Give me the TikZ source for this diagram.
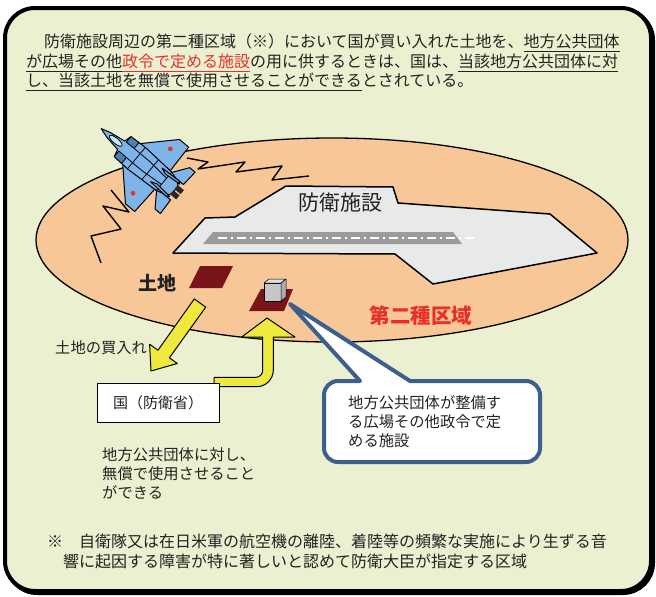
\documentclass[tikz,border=0pt]{standalone}
\usepackage{fontspec}
\newfontfamily\jp{Noto Sans CJK JP}
\definecolor{framefill}{HTML}{EBF1D0}
\definecolor{zonefill}{HTML}{F8C797}
\definecolor{basefill}{HTML}{E8EAEA}
\definecolor{runwaygray}{HTML}{9B9B9B}
\definecolor{parcelred}{HTML}{7A141B}
\definecolor{arrowyellow}{HTML}{EEE93C}
\definecolor{calloutblue}{HTML}{3C5F8C}
\definecolor{jred}{HTML}{E8302A}
\definecolor{ink}{HTML}{222222}
\definecolor{jetblue}{HTML}{7FB4E8}
\definecolor{jetdark}{HTML}{4F7FB0}
\definecolor{canopyblue}{HTML}{C4E8F4}
% underline with a fixed depth so that adjacent pieces line up
\newcommand{\undl}[1]{\underline{\setbox0=\hbox{#1}\dp0=2.4pt\box0}}
\begin{document}
\begin{tikzpicture}[x=1pt,y=-1pt,line join=round,
  txt/.style={inner sep=0pt,text=ink,font=\jp\fontsize{16pt}{19pt}\selectfont},
  smalltxt/.style={inner sep=0pt,text=ink,font=\jp\fontsize{15.3pt}{18pt}\selectfont},
  wave/.style={draw=black,line width=1.4},
  parcel/.style={fill=parcelred},
  fatarrow/.style={fill=arrowyellow,draw=black,line width=1},
  callout/.style={fill=white,draw=calloutblue,line width=4},
  jetpart/.style={fill=jetblue,draw=black,line width=1}]
\useasboundingbox (0,0) rectangle (656,597);

% outer frame with a small drop shadow
\draw[line width=4,rounded corners=30] (7,10) rectangle (653,593);
\draw[fill=framefill,line width=4,rounded corners=30] (5,8) rectangle (651,591);

% second-class zone
\draw[fill=zonefill,line width=1.3] (332,240) ellipse [x radius=296, y radius=102];

% defence facility and runway
\draw[fill=basefill,line width=1.5] (173,253) -- (205,218) -- (235,217) -- (286,186)
  -- (393,187) -- (398,203) -- (550,214) -- (597,253) -- (433,284) -- (395,254) -- cycle;
\fill[runwaygray] (203,244) -- (213,232) -- (453,232) -- (462,244) -- cycle;
\draw[white,line width=1.6,dash pattern=on 9pt off 4pt on 2pt off 4pt] (218,238) -- (477,238);
\node[txt,font=\jp\fontsize{21pt}{24pt}\selectfont] (facility) at (340,203) {防衛施設};

% noise lines
\draw[wave] (187,158) -- (208,162) -- (198,169) -- (245,162) -- (236,172)
  -- (282,166) -- (272,180) -- (309,176);
\draw[wave] (111,190) -- (129,212) -- (103,206) -- (121,229) -- (91,236) -- (101,263);

% fighter jet
\begin{scope}[shift={(141,162)},rotate=140,x=1pt,y=1pt]
  % tailplanes
  \draw[jetpart] (-29,10) -- (-41,27) -- (-48,27) -- (-47,10) -- cycle;
  \draw[jetpart] (-29,-10) -- (-41,-27) -- (-48,-27) -- (-47,-10) -- cycle;
  % wings
  \draw[jetpart] (14,12) -- (-15,42) -- (-27,42) -- (-28,12) -- cycle;
  \draw[jetpart] (14,-12) -- (-15,-42) -- (-27,-42) -- (-28,-12) -- cycle;
  % fuselage
  \draw[jetpart] (52,0) -- (42,3) -- (26,5.5) -- (24,13) -- (6,14) -- (-30,12) -- (-40,9)
    -- (-44,5) -- (-44,-5) -- (-40,-9) -- (-30,-12) -- (6,-14) -- (24,-13) -- (26,-5.5)
    -- (42,-3) -- cycle;
  % intakes and panel lines
  \draw[fill=jetdark,line width=0.8] (24,13) -- (14,13.5) -- (14,6) -- (24,5.8) -- cycle;
  \draw[fill=jetdark,line width=0.8] (24,-13) -- (14,-13.5) -- (14,-6) -- (24,-5.8) -- cycle;
  \draw[line width=0.8] (14,6) -- (-6,6) (14,-6) -- (-6,-6) (6,14) -- (6,-14)
    (-12,13) -- (-12,-13) (-30,12) -- (-30,-12) (-6,6) -- (-30,4) (-6,-6) -- (-30,-4);
  % fins
  \draw[jetpart] (-20,9) -- (-41,10) -- (-44,8) -- (-26,6.5) -- cycle;
  \draw[jetpart] (-20,-9) -- (-41,-10) -- (-44,-8) -- (-26,-6.5) -- cycle;
  % canopy, nozzles and roundels
  \draw[fill=canopyblue,line width=0.8] (33,0) ellipse [x radius=8, y radius=2.8];
  \fill[black!85] (-43,0.8) rectangle (-51,6);
  \fill[black!85] (-43,-0.8) rectangle (-51,-6);
  \fill[jred] (-14,29) circle (2.4);
  \fill[jred] (-14,-29) circle (2.4);
\end{scope}

% land parcels
\fill[parcel] (189,288) -- (200,266) -- (233,266) -- (222,288) -- cycle;
\fill[parcel] (249,311) -- (261,289) -- (293,289) -- (284,311) -- cycle;
% small building on the second parcel
\draw[fill=gray!45,line width=0.5] (264,283) rectangle (281,301);
\draw[fill=gray!25,line width=0.5] (264,283) -- (269,279) -- (286,279) -- (281,283) -- cycle;
\draw[fill=gray!65,line width=0.5] (281,283) -- (286,279) -- (286,297) -- (281,301) -- cycle;

\node[txt,font=\jp\bfseries\fontsize{19pt}{22pt}\selectfont] (land) at (157,283) {土地};
\node[txt,text=jred,font=\jp\bfseries\fontsize{20.5pt}{24pt}\selectfont] (zone) at (421,316) {第二種区域};

% purchase arrow and lending arrow
\draw[fatarrow] (194.3,298.9) -- (205.7,307.1) -- (169.4,357.8) -- (177.3,363.5)
  -- (151,371) -- (149.6,344.2) -- (158,350.2) -- cycle;
\draw[fatarrow] (214,377.3) -- (255.7,377.3) arc[start angle=90,end angle=0,radius=7]
  -- (262.7,337) -- (241.7,337) -- (267,318) -- (295,337) -- (273.3,337) -- (273.3,370)
  arc[start angle=0,end angle=90,radius=16.7] -- (214,386.7) -- cycle;

\node[smalltxt,anchor=west] (buy) at (55,348) {土地の買入れ};
\node[smalltxt,draw=black,line width=1,fill=white,minimum width=122pt,minimum height=39pt,
  font=\jp\fontsize{15pt}{18pt}\selectfont] (state) at (158,402.5) {国（防衛省）};

\node[smalltxt,anchor=west] (lend1) at (102,455) {地方公共団体に対し、};
\node[smalltxt,anchor=west] (lend2) at (102,473.5) {無償で使用させること};
\node[smalltxt,anchor=west] (lend3) at (102,492) {ができる};

% callout
\draw[callout] (290,304) -- (360,381) -- (338,381) arc[start angle=270,end angle=180,radius=14]
  -- (324,448) arc[start angle=180,end angle=90,radius=14]
  -- (526,462) arc[start angle=90,end angle=0,radius=14]
  -- (540,395) arc[start angle=0,end angle=-90,radius=14] -- (410,381) -- cycle;
\node[smalltxt,anchor=west] (call1) at (348,403) {地方公共団体が整備す};
\node[smalltxt,anchor=west] (call2) at (348,422) {る広場その他政令で定};
\node[smalltxt,anchor=west] (call3) at (348,441) {める施設};

% heading paragraph
\node[txt,anchor=base west] (head1) at (44,47)
  {防衛施設周辺の第二種区域（※）において国が買い入れた土地を、\undl{地方公共団体}};
\node[txt,anchor=base west] (head2) at (26,67)
  {\undl{が広場その他}\textcolor{jred}{\undl{政令で定める施設}}の用に供するときは、国は、\undl{当該地方公共団体に対}};
\node[txt,anchor=base west] (head3) at (26,86)
  {\undl{し、当該土地を無償で使用させることができる}とされている。};

% footnote
\node[txt,anchor=west] (note1) at (47,541)
  {※　自衛隊又は在日米軍の航空機の離陸、着陸等の頻繁な実施により生ずる音};
\node[txt,anchor=west] (note2) at (63,561)
  {響に起因する障害が特に著しいと認めて防衛大臣が指定する区域};
\end{tikzpicture}
\end{document}
